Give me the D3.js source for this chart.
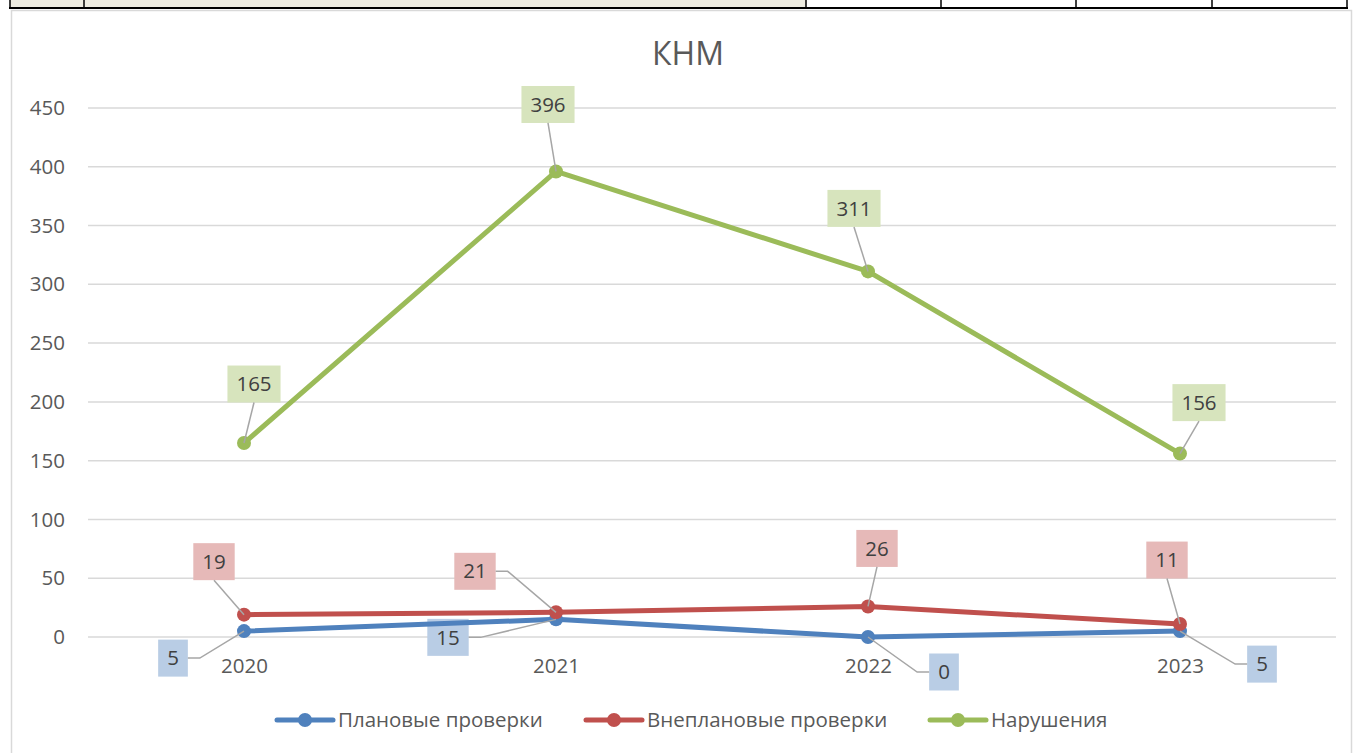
<!DOCTYPE html>
<html><head><meta charset="utf-8">
<script src="https://cdn.jsdelivr.net/npm/d3@7"></script>
<style>body{margin:0;background:#fff;overflow:hidden}svg{display:block}</style>
</head><body>
<script>
const categories = ["2020", "2021", "2022", "2023"];
const planned = [5, 15, 0, 5];
const unplanned = [19, 21, 26, 11];
const violations = [165, 396, 311, 156];
const seriesNames = ["Плановые проверки", "Внеплановые проверки", "Нарушения"];
const yTicks = [0, 50, 100, 150, 200, 250, 300, 350, 400, 450];
const titleText = "КНМ";

// label placement (box-center offsets from point, px) and leader attachment
const labelLayout = [
  [{dx:-71,dy:27,side:"right"},{dx:-108,dy:18,side:"right"},{dx:76,dy:35,side:"left"},{dx:82,dy:33,side:"left"}],
  [{dx:-30,dy:-53,side:"bottom"},{dx:-81,dy:-41,side:"right"},{dx:9,dy:-58,side:"bottom"},{dx:-13,dy:-64,side:"bottom"}],
  [{dx:10,dy:-59,side:"bottom"},{dx:-8,dy:-67,side:"bottom"},{dx:-14,dy:-63,side:"bottom"},{dx:19,dy:-51,side:"bottom"}]
];
const colors = ["#4f81bd", "#c0504d", "#9bbb59"];
const boxFills = ["#b9cde5", "#e6b9b8", "#d7e4bd"];

const W = 1356, H = 753;
const svg = d3.select("body").append("svg").attr("width", W).attr("height", H);
const font = "'Open Sans', 'Noto Sans', sans-serif";

// table strip at top
const strip = svg.append("g");
strip.append("rect").attr("x", 10).attr("y", -2).attr("width", 796).attr("height", 10).attr("fill", "#eeece1");
strip.append("line").attr("x1", 9).attr("x2", 1348).attr("y1", 8).attr("y2", 8).attr("stroke", "#000").attr("stroke-width", 2);
[10, 84, 806, 941, 1076, 1212, 1347].forEach(x =>
  strip.append("line").attr("x1", x).attr("x2", x).attr("y1", 0).attr("y2", 9).attr("stroke", "#000").attr("stroke-width", 1.5));

// chart frame
svg.append("rect").attr("x", 11.5).attr("y", 10.5).attr("width", 1340).attr("height", 760)
  .attr("fill", "#fff").attr("stroke", "#d9d9d9").attr("stroke-width", 1.5);

const x = d3.scalePoint().domain(categories).range([88, 1336]).padding(0.5);
const y = d3.scaleLinear().domain([0, 450]).range([637, 108]);

// gridlines
svg.append("g").selectAll("line").data(yTicks).join("line")
  .attr("x1", 88).attr("x2", 1336).attr("y1", d => y(d)).attr("y2", d => y(d))
  .attr("stroke", "#d9d9d9").attr("stroke-width", 1.5);

// y axis
const yAxis = svg.append("g").attr("transform", "translate(70,0)")
  .call(d3.axisLeft(y).tickValues(yTicks).tickSize(0).tickPadding(5));
yAxis.select(".domain").remove();
yAxis.selectAll("text").attr("font-family", font).attr("font-size", 20.5).attr("fill", "#595959");

// x axis
const xAxis = svg.append("g").attr("transform", "translate(0,658)")
  .call(d3.axisBottom(x).tickSize(0).tickPadding(0));
xAxis.select(".domain").remove();
xAxis.selectAll("text").attr("font-family", font).attr("font-size", 20.5).attr("fill", "#595959").attr("dy", "0.71em");

// title
svg.append("text").attr("x", 688).attr("y", 65).attr("text-anchor", "middle")
  .attr("font-family", font).attr("font-size", 32).attr("fill", "#595959").text(titleText);

const allSeries = [planned, unplanned, violations];
const line = d3.line().x((d, i) => x(categories[i])).y(d => y(d));

const labelsG = svg.append("g");
const linesG = svg.append("g");

allSeries.forEach((vals, s) => {
  linesG.append("path").datum(vals).attr("d", line).attr("fill", "none")
    .attr("stroke", colors[s]).attr("stroke-width", 5).attr("stroke-linejoin", "round").attr("stroke-linecap", "round");
  linesG.selectAll(null).data(vals).join("circle")
    .attr("cx", (d, i) => x(categories[i])).attr("cy", d => y(d)).attr("r", 7).attr("fill", colors[s]);
});

const leadersG = svg.append("g");
allSeries.forEach((vals, s) => {
  vals.forEach((v, i) => {
    const px = x(categories[i]), py = y(v);
    const L = labelLayout[s][i];
    const cx = px + L.dx, cy = py + L.dy;
    const txt = String(v);
    const bw = txt.length * 11.7 + 18, bh = 37;
    let pts;
    if (L.side === "bottom") pts = [[cx, cy + bh / 2], [px, py]];
    else if (L.side === "right") pts = [[cx + bw / 2, cy], [cx + bw / 2 + 12, cy], [px, py]];
    else pts = [[cx - bw / 2, cy], [cx - bw / 2 - 12, cy], [px, py]];
    leadersG.append("path").attr("d", d3.line()(pts)).attr("fill", "none")
      .attr("stroke", "#a6a6a6").attr("stroke-width", 1.5);
    labelsG.append("rect").attr("x", cx - bw / 2).attr("y", cy - bh / 2).attr("width", bw).attr("height", bh)
      .attr("fill", boxFills[s]);
    labelsG.append("text").attr("x", cx).attr("y", cy).attr("dy", "0.35em").attr("text-anchor", "middle")
      .attr("font-family", font).attr("font-size", 20.5).attr("fill", "#404040").text(txt);
  });
});

// legend
const legendX = [277, 586, 930];
const legend = svg.append("g");
seriesNames.forEach((name, s) => {
  const g = legend.append("g").attr("transform", `translate(${legendX[s]},720)`);
  g.append("line").attr("x1", 0).attr("x2", 56).attr("stroke", colors[s]).attr("stroke-width", 5).attr("stroke-linecap", "round");
  g.append("circle").attr("cx", 28).attr("r", 7).attr("fill", colors[s]);
  g.append("text").attr("x", 61).attr("dy", "0.35em").attr("font-family", font).attr("font-size", 20.5)
    .attr("fill", "#595959").text(name);
});
</script>
</body></html>
